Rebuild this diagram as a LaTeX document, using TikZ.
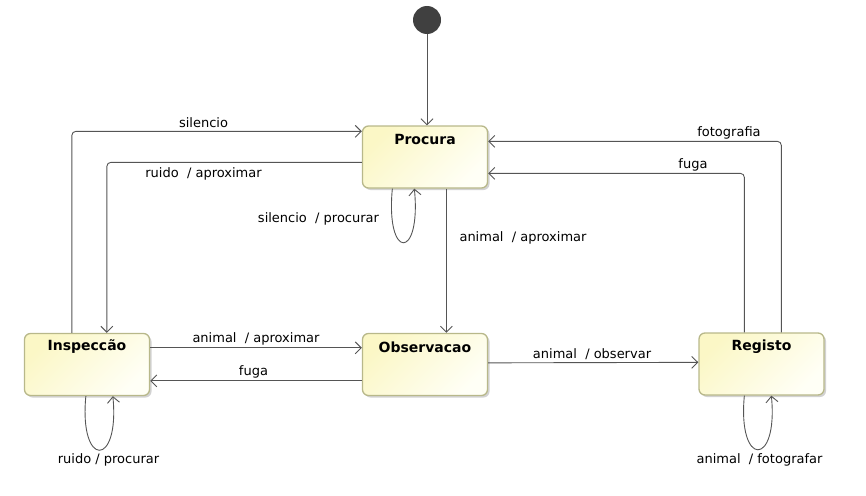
\documentclass[tikz,border=0pt]{standalone}
\usepackage{fontspec}
\setmainfont{DejaVu Sans}
\usetikzlibrary{arrows.meta,shadows}
\definecolor{lc}{HTML}{555555}
\definecolor{bd}{HTML}{B8B88A}
\definecolor{fa}{HTML}{FBF7C6}
\definecolor{fb}{HTML}{FFFFF6}
\definecolor{initc}{HTML}{404040}
\tikzset{
 state/.style={rectangle, rounded corners=6pt, draw=bd, line width=1.3pt, top color=fa, bottom color=fb, shading angle=45, minimum width=125pt, minimum height=62pt, inner sep=0pt, drop shadow={shadow xshift=2pt, shadow yshift=-2pt, fill=black!35, opacity=0.5}},
 title/.style={font=\fontsize{14}{16}\selectfont\bfseries, inner sep=0pt},
 lbl/.style={font=\fontsize{13}{15}\selectfont, text=black, inner sep=0pt},
 arr/.style={draw=lc, line width=0.9pt, -{Straight Barb[length=6pt,width=12pt]}, rounded corners=4pt},
}
\begin{document}
\begin{tikzpicture}[x=1pt,y=-1pt]
\useasboundingbox (0,0) rectangle (866,495);
% states
\node[state] (pro) at (425,157) {};
\node[state] (ins) at (87,364.5) {};
\node[state] (obs) at (425,364.5) {};
\node[state] (reg) at (761.5,364) {};
\node[title] (proT) at ([yshift=-14pt]pro.north) {Procura};
\node[title] (insT) at ([yshift=-14pt]ins.north) {Inspeccão};
\node[title] (obsT) at ([yshift=-14pt]obs.north) {Observacao};
\node[title] (regT) at ([yshift=-14pt]reg.north) {Registo};
\node[circle, fill=initc, minimum size=28pt, inner sep=0pt] (init) at (427,20) {};
% connectors
\draw[arr] (init.south) -- (init.south |- pro.north);
\draw[arr] ([xshift=48pt]ins.north west) |- ([yshift=-6pt]pro.north west);
\draw[arr] ([yshift=-37pt]pro.north west) -| ([xshift=83pt]ins.north west);
\draw[arr] ([xshift=30.5pt]pro.south west) .. controls +(-7,72) and +(7,72) .. ([xshift=52.5pt]pro.south west);
\draw[arr] ([xshift=84.5pt]pro.south west) -- ([xshift=84.5pt]obs.north west);
\draw[arr] ([xshift=83pt]reg.north west) |- ([yshift=-16pt]pro.north east);
\draw[arr] ([xshift=46pt]reg.north west) |- ([yshift=-48pt]pro.north east);
\draw[arr] ([yshift=-15pt]ins.north east) -- ([yshift=-15pt]obs.north west);
\draw[arr] ([yshift=-48pt]obs.north west) -- ([yshift=-48pt]ins.north east);
\draw[arr] ([yshift=-30pt]obs.north east) -- ([yshift=-30pt]reg.north west);
\draw[arr] ([xshift=62pt]ins.south west) .. controls +(-7,72) and +(7,72) .. ([xshift=89pt]ins.south west);
\draw[arr] ([xshift=46pt]reg.south west) .. controls +(-7,72) and +(7,72) .. ([xshift=73pt]reg.south west);
% labels
\node[lbl] (l1) at (203.5,123) {silencio};
\node[lbl] (l2) at (203.5,174) {ruido\ \ / aproximar};
\node[lbl] (l3) at (318.5,219) {silencio\ \ / procurar};
\node[lbl] (l4) at (523,238) {animal\ \ / aproximar};
\node[lbl] (l5) at (729,133) {fotografia};
\node[lbl] (l6) at (693,165) {fuga};
\node[lbl] (l7) at (256,339) {animal\ \ / aproximar};
\node[lbl] (l8) at (253.5,372) {fuga};
\node[lbl] (l9) at (108.5,460) {ruido / procurar};
\node[lbl] (l10) at (592,354) {animal\ \ / observar};
\node[lbl] (l11) at (759.5,460) {animal\ \ / fotografar};
\end{tikzpicture}
\end{document}
